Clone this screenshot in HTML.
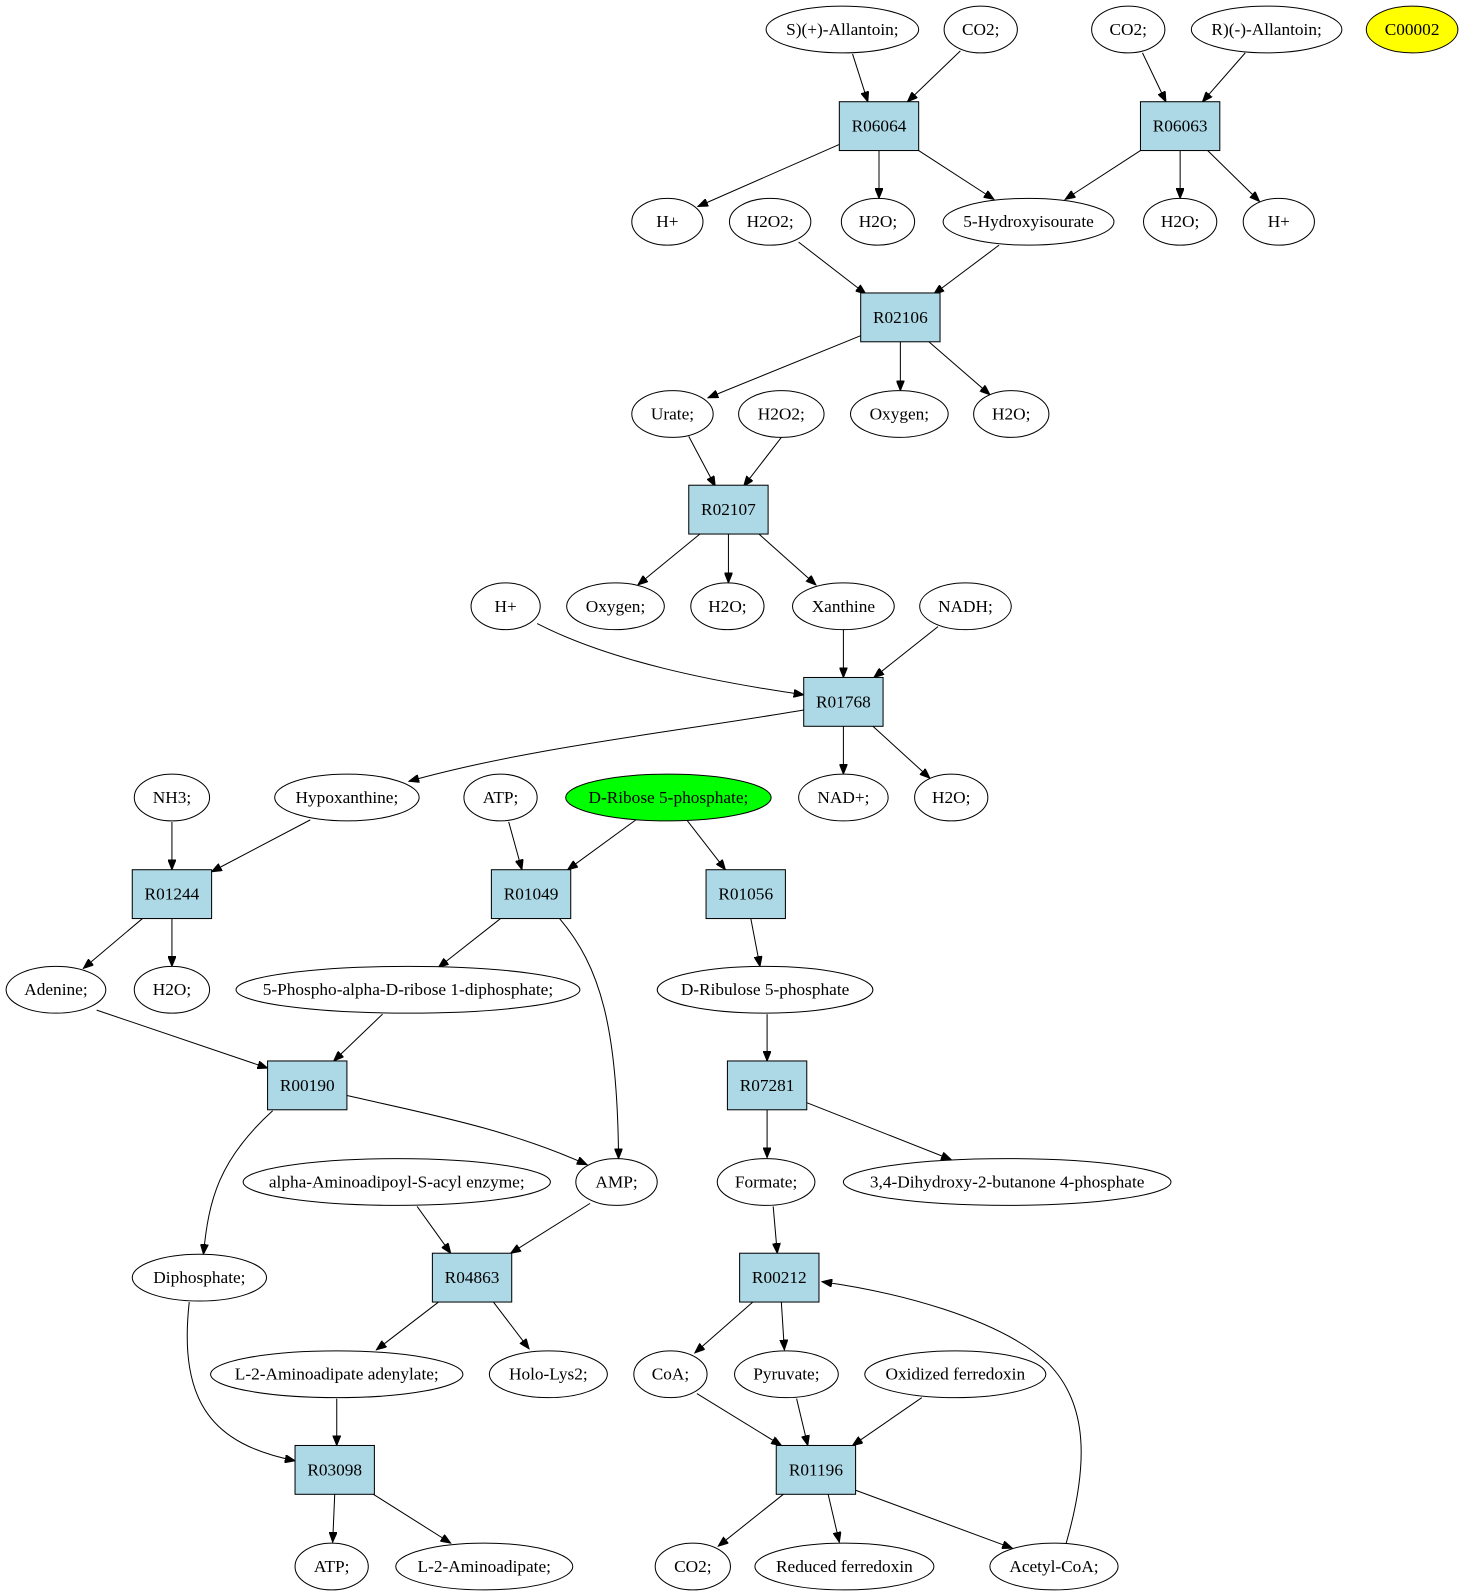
<!DOCTYPE html>
<html><head><meta charset="utf-8"><style>
html,body{margin:0;padding:0;background:#fff;}
svg{display:block;}
text{font-family:"Liberation Serif",serif;font-size:17px;text-anchor:middle;dominant-baseline:central;fill:#000;}
ellipse{fill:#fff;stroke:#000;stroke-width:1;}
rect{fill:#add8e6;stroke:#000;stroke-width:1;}
path{fill:none;stroke:#000;stroke-width:1;}
</style></head><body>
<svg width="1465" height="1595" viewBox="0 0 1440 1568" preserveAspectRatio="none" xmlns="http://www.w3.org/2000/svg">
<defs><marker id="a" markerWidth="11" markerHeight="8" refX="10" refY="4" orient="auto" markerUnits="userSpaceOnUse"><path d="M0,0 L10,4 L0,8 Z" style="fill:#000;stroke:#000"/></marker></defs>
<g marker-end="url(#a)">
<path d="M838,53 L853,100"/>
<path d="M944,50 L892,100"/>
<path d="M1123,52 L1146,100"/>
<path d="M1224,52 L1182,100"/>
<path d="M825,142 L686,203"/>
<path d="M864,148 L864,195"/>
<path d="M903,148 L977,196"/>
<path d="M1121,148 L1047,196"/>
<path d="M1160,148 L1160,195"/>
<path d="M1187,148 L1238,198"/>
<path d="M785,238 L851,289"/>
<path d="M982,241 L918,289"/>
<path d="M846,330 L696,391"/>
<path d="M885,336 L885,384"/>
<path d="M913,336 L973,388"/>
<path d="M677,429 L703,478"/>
<path d="M768,430 L731,478"/>
<path d="M688,525 L627,575"/>
<path d="M716,525 L716,573"/>
<path d="M746,525 L802,575"/>
<path d="M528,613 C600,650 700,670 790,683"/>
<path d="M829,619 L829,666"/>
<path d="M922,616 L859,666"/>
<path d="M790,698 C660,720 520,735 402,768"/>
<path d="M829,714 L829,761"/>
<path d="M858,714 L914,765"/>
<path d="M169,808 L169,855"/>
<path d="M305,806 L208,857"/>
<path d="M500,808 L513,855"/>
<path d="M625,806 L558,855"/>
<path d="M675,806 L713,855"/>
<path d="M140,903 L82,952"/>
<path d="M169,903 L169,950"/>
<path d="M492,903 L431,951"/>
<path d="M550,903 C590,950 607,1010 608,1139"/>
<path d="M738,903 L747,950"/>
<path d="M95,993 L263,1050"/>
<path d="M376,997 L328,1043"/>
<path d="M754,997 L754,1043"/>
<path d="M268,1092 C215,1140 205,1180 200,1233"/>
<path d="M341,1077 C420,1095 500,1110 577,1145"/>
<path d="M754,1091 L754,1138"/>
<path d="M793,1084 L935,1140"/>
<path d="M410,1186 L443,1232"/>
<path d="M580,1183 L502,1232"/>
<path d="M760,1186 L764,1232"/>
<path d="M186,1280 C175,1380 210,1420 290,1436"/>
<path d="M431,1280 L370,1327"/>
<path d="M485,1280 L520,1326"/>
<path d="M740,1280 L683,1330"/>
<path d="M768,1280 L771,1327"/>
<path d="M1048,1517 C1070,1440 1070,1380 1030,1340 C980,1295 880,1270 808,1260"/>
<path d="M331,1375 L331,1421"/>
<path d="M685,1370 L768,1421"/>
<path d="M783,1375 L794,1421"/>
<path d="M906,1374 L838,1421"/>
<path d="M770,1469 L706,1520"/>
<path d="M814,1469 L825,1516"/>
<path d="M841,1465 L995,1522"/>
<path d="M367,1469 L443,1517"/>
<path d="M329,1469 L327,1516"/>
</g>
<g>
<ellipse cx="828" cy="29" rx="75" ry="23"/><text x="828" y="29">S)(+)-Allantoin;</text>
<ellipse cx="964" cy="29" rx="36" ry="23"/><text x="964" y="29">CO2;</text>
<ellipse cx="1109" cy="29" rx="36" ry="23"/><text x="1109" y="29">CO2;</text>
<ellipse cx="1245" cy="29" rx="74" ry="23"/><text x="1245" y="29">R)(-)-Allantoin;</text>
<ellipse cx="1388" cy="29" rx="45" ry="23" style="fill:#ffff00"/><text x="1388" y="29">C00002</text>
<rect x="825" y="100" width="78" height="48"/><text x="864" y="124">R06064</text>
<rect x="1121" y="100" width="78" height="48"/><text x="1160" y="124">R06063</text>
<ellipse cx="656" cy="218" rx="35" ry="23"/><text x="656" y="218">H+</text>
<ellipse cx="757" cy="218" rx="40" ry="23"/><text x="757" y="218">H2O2;</text>
<ellipse cx="863" cy="218" rx="36" ry="23"/><text x="863" y="218">H2O;</text>
<ellipse cx="1011" cy="218" rx="84" ry="23"/><text x="1011" y="218">5-Hydroxyisourate</text>
<ellipse cx="1160" cy="218" rx="36" ry="23"/><text x="1160" y="218">H2O;</text>
<ellipse cx="1257" cy="218" rx="35" ry="23"/><text x="1257" y="218">H+</text>
<rect x="846" y="288" width="78" height="48"/><text x="885" y="312">R02106</text>
<ellipse cx="661" cy="407" rx="40" ry="23"/><text x="661" y="407">Urate;</text>
<ellipse cx="768" cy="407" rx="42" ry="23"/><text x="768" y="407">H2O2;</text>
<ellipse cx="884" cy="407" rx="48" ry="23"/><text x="884" y="407">Oxygen;</text>
<ellipse cx="994" cy="407" rx="37" ry="23"/><text x="994" y="407">H2O;</text>
<rect x="677" y="477" width="78" height="48"/><text x="716" y="501">R02107</text>
<ellipse cx="497" cy="596" rx="34" ry="23"/><text x="497" y="596">H+</text>
<ellipse cx="605" cy="596" rx="48" ry="23"/><text x="605" y="596">Oxygen;</text>
<ellipse cx="715" cy="596" rx="36" ry="23"/><text x="715" y="596">H2O;</text>
<ellipse cx="829" cy="596" rx="50" ry="23"/><text x="829" y="596">Xanthine</text>
<ellipse cx="949" cy="596" rx="45" ry="23"/><text x="949" y="596">NADH;</text>
<rect x="790" y="666" width="78" height="48"/><text x="829" y="690">R01768</text>
<ellipse cx="169" cy="784" rx="37" ry="23"/><text x="169" y="784">NH3;</text>
<ellipse cx="341" cy="784" rx="71" ry="23"/><text x="341" y="784">Hypoxanthine;</text>
<ellipse cx="492" cy="784" rx="36" ry="23"/><text x="492" y="784">ATP;</text>
<ellipse cx="657" cy="784" rx="101" ry="23" style="fill:#00ff00"/><text x="657" y="784">D-Ribose 5-phosphate;</text>
<ellipse cx="829" cy="784" rx="44" ry="23"/><text x="829" y="784">NAD+;</text>
<ellipse cx="935" cy="784" rx="36" ry="23"/><text x="935" y="784">H2O;</text>
<rect x="130" y="855" width="78" height="48"/><text x="169" y="879">R01244</text>
<rect x="483" y="855" width="78" height="48"/><text x="522" y="879">R01049</text>
<rect x="694" y="855" width="78" height="48"/><text x="733" y="879">R01056</text>
<ellipse cx="55" cy="973" rx="49" ry="23"/><text x="55" y="973">Adenine;</text>
<ellipse cx="169" cy="973" rx="37" ry="23"/><text x="169" y="973">H2O;</text>
<ellipse cx="401" cy="973" rx="169" ry="23"/><text x="401" y="973">5-Phospho-alpha-D-ribose 1-diphosphate;</text>
<ellipse cx="752" cy="973" rx="106" ry="23"/><text x="752" y="973">D-Ribulose 5-phosphate</text>
<rect x="263" y="1043" width="78" height="48"/><text x="302" y="1067">R00190</text>
<rect x="715" y="1043" width="78" height="48"/><text x="754" y="1067">R07281</text>
<ellipse cx="390" cy="1162" rx="151" ry="23"/><text x="390" y="1162">alpha-Aminoadipoyl-S-acyl enzyme;</text>
<ellipse cx="606" cy="1162" rx="40" ry="23"/><text x="606" y="1162">AMP;</text>
<ellipse cx="753" cy="1162" rx="48" ry="23"/><text x="753" y="1162">Formate;</text>
<ellipse cx="990" cy="1162" rx="161" ry="23"/><text x="990" y="1162">3,4-Dihydroxy-2-butanone 4-phosphate</text>
<ellipse cx="196" cy="1256" rx="66" ry="23"/><text x="196" y="1256">Diphosphate;</text>
<rect x="425" y="1232" width="78" height="48"/><text x="464" y="1256">R04863</text>
<rect x="727" y="1232" width="78" height="48"/><text x="766" y="1256">R00212</text>
<ellipse cx="331" cy="1351" rx="124" ry="23"/><text x="331" y="1351">L-2-Aminoadipate adenylate;</text>
<ellipse cx="539" cy="1351" rx="58" ry="23"/><text x="539" y="1351">Holo-Lys2;</text>
<ellipse cx="659" cy="1351" rx="36" ry="23"/><text x="659" y="1351">CoA;</text>
<ellipse cx="773" cy="1351" rx="51" ry="23"/><text x="773" y="1351">Pyruvate;</text>
<ellipse cx="939" cy="1351" rx="89" ry="23"/><text x="939" y="1351">Oxidized ferredoxin</text>
<rect x="290" y="1421" width="78" height="48"/><text x="329" y="1445">R03098</text>
<rect x="763" y="1421" width="78" height="48"/><text x="802" y="1445">R01196</text>
<ellipse cx="326" cy="1540" rx="36" ry="23"/><text x="326" y="1540">ATP;</text>
<ellipse cx="476" cy="1540" rx="87" ry="23"/><text x="476" y="1540">L-2-Aminoadipate;</text>
<ellipse cx="681" cy="1540" rx="37" ry="23"/><text x="681" y="1540">CO2;</text>
<ellipse cx="830" cy="1540" rx="88" ry="23"/><text x="830" y="1540">Reduced ferredoxin</text>
<ellipse cx="1036" cy="1540" rx="63" ry="23"/><text x="1036" y="1540">Acetyl-CoA;</text>
</g>
</svg>
</body></html>
